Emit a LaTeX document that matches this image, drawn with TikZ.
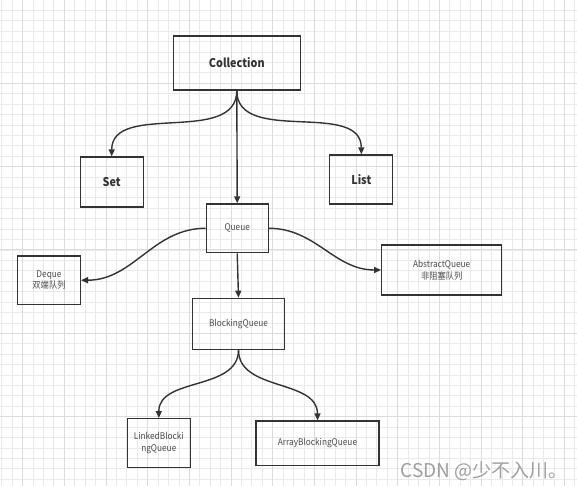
\documentclass[tikz,border=0pt]{standalone}
\usepackage{fontspec}
\setmainfont{Noto Sans CJK SC}[FakeStretch=0.9]
\newfontfamily\markfont{Noto Sans CJK SC}
\usepackage{xcolor}
\definecolor{ink}{HTML}{333333}
\definecolor{softink}{HTML}{4A4A4A}
\definecolor{gridminor}{HTML}{EAEAEA}
\definecolor{gridmajor}{HTML}{DCDCDC}
\usepackage{tikz}
\usetikzlibrary{positioning,arrows.meta,calc}

\begin{document}
\begin{tikzpicture}
		[x=1pt,y=-1pt,
		every node/.style={draw=ink,line width=1.3pt,rectangle,inner sep=0pt,align=center,text=softink,font=\fontsize{9.2}{11.5}\selectfont},
		boldbox/.style={text=ink,font=\fontsize{12}{15}\selectfont\bfseries},
		arr/.style={draw=ink,line width=1.4pt,-{Triangle[length=7pt,width=6pt]}},
		minor/.style={draw=gridminor,line width=1pt},
		major/.style={draw=gridmajor,line width=1pt}]
		\fill[white] (0,0) rectangle (577,486);
		\useasboundingbox (0,0) rectangle (577,486);
		% background grid
		\foreach \i in {0,...,55}
			\draw[minor] ({1.86+10.42*\i},0) -- ++(0,486);
		\foreach \i in {0,...,46}
			\draw[minor] (0,{10.42*\i}) -- ++(577,0);
		\foreach \i in {0,...,13}
			\draw[major] ({22.7+41.68*\i},0) -- ++(0,486);
		\foreach \i in {0,...,5}
			\draw[major] (0,{83.3*\i}) -- ++(577,0);
		% boxes
		\node[boldbox,minimum width=127pt,minimum height=54pt] (coll) at (236.8,63) {Collection};
		\node[boldbox,minimum width=63pt,minimum height=50pt] (set) at (111.7,182) {Set};
		\node[boldbox,minimum width=63pt,minimum height=49pt] (list) at (361.3,179.5) {List};
		\node[minimum width=62pt,minimum height=48.7pt] (queue) at (237.2,228.3) {Queue};
		\node[minimum width=62.7pt,minimum height=48.3pt] (deque) at (49,280.2) {Deque\\双端队列};
		\node[minimum width=120pt,minimum height=50pt] (abq) at (441.7,270) {AbstractQueue\\非阻塞队列};
		\node[minimum width=92.3pt,minimum height=51pt] (bq) at (238.5,323.8) {BlockingQueue};
		\node[minimum width=63pt,minimum height=48.7pt] (lbq) at (158.8,443) {LinkedBlocki\\ngQueue};
		\node[minimum width=123pt,minimum height=44.3pt] (arbq) at (317.5,443.2) {ArrayBlockingQueue};
		% arrows
		\draw[arr] (coll.south) to[out=-90,in=90] (set.north);
		\draw[arr] (coll.south) -- (queue.north);
		\draw[arr] (coll.south) to[out=-90,in=90] (list.north);
		\draw[arr] (queue.west) to[out=180,in=0] (deque.east);
		\draw[arr] (queue.east) to[out=0,in=180] (abq.west);
		\draw[arr] (queue.south) -- (bq.north);
		\draw[arr] (bq.south) to[out=-90,in=90] (lbq.north);
		\draw[arr] (bq.south) to[out=-90,in=90] (arbq.north);
		% watermark
		\node[draw=none,text=gray!75,font=\markfont\fontsize{19}{19}\selectfont] (mark) at (484,471) {CSDN @少不入川。};
	\end{tikzpicture}
\end{document}
